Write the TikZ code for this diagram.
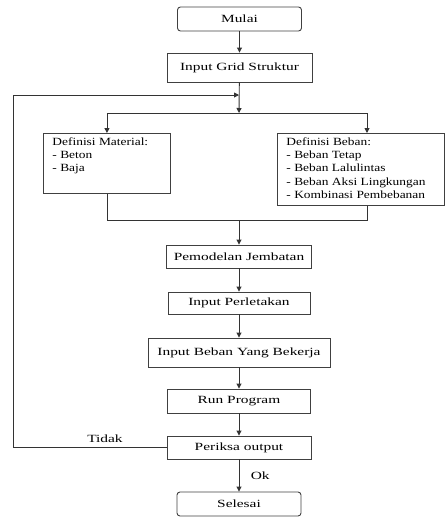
\documentclass[tikz,border=0pt]{standalone}
\usepackage{fontspec}
\setmainfont[FakeStretch=1.4]{Liberation Serif}
\newfontfamily\listfont[FakeStretch=1.22]{Liberation Serif}
\usetikzlibrary{positioning,arrows.meta,calc}

\begin{document}
\begin{tikzpicture}[x=1pt, y=-1pt,
    every node/.style={font=\fontsize{11}{13.3}\selectfont},
    box/.style={draw=black!75, line width=0.9pt, minimum height=23pt, inner sep=0pt},
    ends/.style={box, rounded corners=3pt, minimum width=124pt, minimum height=24pt},
    list/.style={box, anchor=north west, inner xsep=9pt, inner ysep=4pt,
        font=\listfont\fontsize{11}{13.3}\selectfont},
    link/.style={draw=black!80, line width=0.9pt},
    arr/.style={link, -{Triangle[length=5pt,width=5pt]}}]
    \useasboundingbox (0,0) rectangle (445,517);

    \node[ends] (mulai) at (239.5,19) {Mulai};
    \node[box, minimum width=145pt, minimum height=29pt] (grid) at (239.5,67.5) {Input Grid Struktur};

    % two definition boxes
    \node[list] (material) at (43,133)
        {\parbox[t][52pt][t]{109pt}{\raggedright Definisi Material:\\- Beton\\- Baja}};
    \node[list] (beban) at (277,133)
        {\parbox[t][64pt][t]{149pt}{\raggedright Definisi Beban:\\- Beban Tetap\\- Beban Lalulintas\\- Beban Aksi Lingkungan\\- Kombinasi Pembebanan}};

    \node[box, minimum width=145pt] (model) at (239,256.5) {Pemodelan Jembatan};
    \node[box, minimum width=142pt, minimum height=22pt] (letak) at (239,303) {Input Perletakan};
    \node[box, minimum width=182pt, minimum height=29pt] (kerja) at (239,352.5) {Input Beban Yang Bekerja};
    \node[box, minimum width=143pt, minimum height=24pt] (run) at (239,401) {Run Program};
    \node[box, minimum width=144pt] (periksa) at (239,447.5) {Periksa output};
    \node[ends] (selesai) at (239,504) {Selesai};

    \coordinate (masuk) at (239,95);
    \coordinate (bagi) at (239,113);
    \coordinate (kanan) at (367,113);
    \coordinate (gabung) at (239,220);
    \coordinate (kiri) at (13,447.5);

    \draw[arr] (mulai) -- (grid);
    \draw[arr] (grid) -- (bagi);
    \draw[link] (bagi -| material.north) -- (kanan);
    \draw[arr] (bagi -| material.north) -- (material.north);
    \draw[arr] (kanan) -- (kanan |- beban.north);
    \draw[link] (material.south) |- (gabung);
    \draw[link] (kanan |- beban.south) |- (gabung);
    \draw[arr] (gabung) -- (model);
    \draw[arr] (model) -- (letak);
    \draw[arr] (letak) -- (kerja);
    \draw[arr] (kerja) -- (run);
    \draw[arr] (run) -- (periksa);
    \draw[arr] (periksa) -- node[right=8pt] (ok) {Ok} (selesai);
    % back to the start when output is not ok
    \draw[arr] (periksa.west) -- (kiri) |- (masuk);
    \node[above=1pt] (tidak) at (105,447.5) {Tidak};
\end{tikzpicture}
\end{document}
